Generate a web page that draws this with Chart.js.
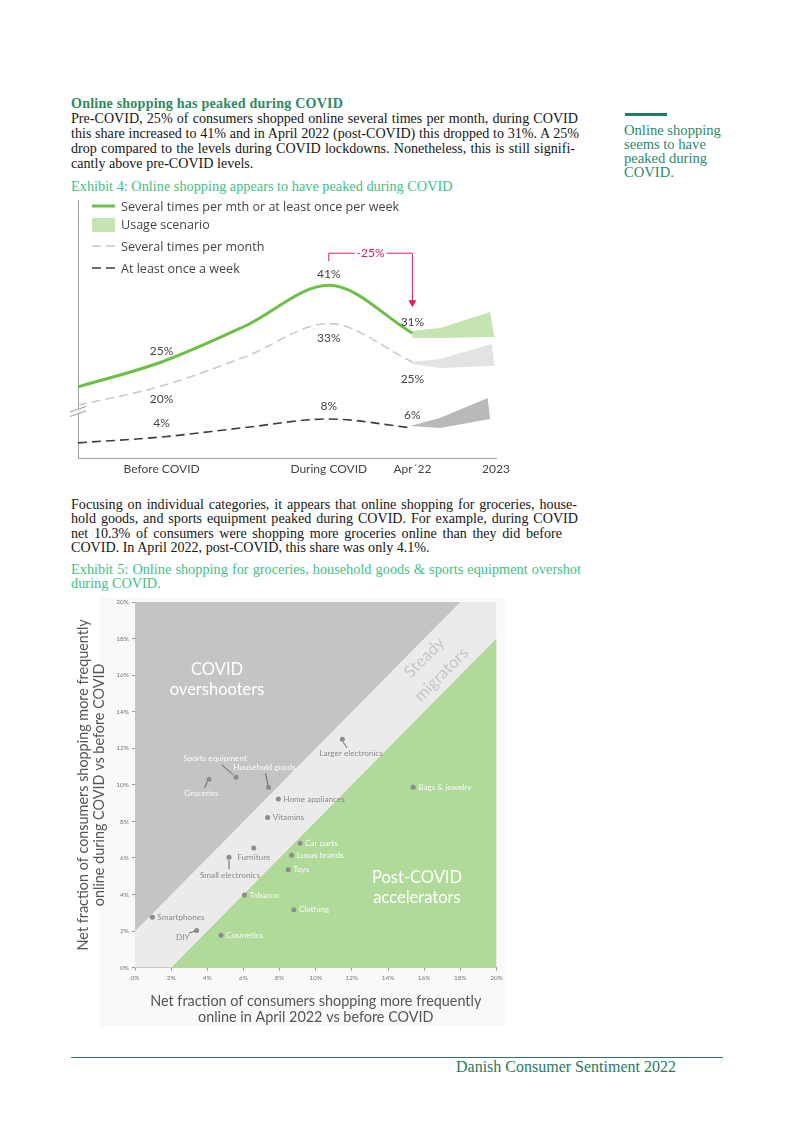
<!DOCTYPE html>
<html lang="en">
<head>
<meta charset="UTF-8">
<title>Danish Consumer Sentiment 2022 - Online shopping</title>
<script src="https://cdn.jsdelivr.net/npm/chart.js"></script>
<style>
    body { margin: 0; background: #fff; }
    .page { position: relative; width: 793px; height: 1122px; overflow: hidden; font-family: "Liberation Serif", serif; color: #161616; }
    .abs { position: absolute; }
    .txt { font-size: 14.1px; line-height: 15px; }
    .txt div, .exhibit div, .side div { white-space: nowrap; }
    .just { text-align: justify; text-align-last: justify; }
    .head { font-weight: bold; color: #2e8a63; letter-spacing: 0.2px; }
    .exhibit { font-size: 14.3px; line-height: 14.5px; color: #3fbf86; }
    .side { font-size: 14.6px; line-height: 14.3px; color: #2b8a6a; }
    .legend { font-family: "Open Sans", sans-serif; font-size: 12.55px; color: #444; line-height: 14px; }
    canvas { position: absolute; }
</style>
</head>
<body>
<div class="page">

    <!-- intro text -->
    <div class="abs txt" style="left:71px; top:95.5px;">
        <div class="head">Online shopping has peaked during COVID</div>
        <div class="just" style="width:507px">Pre-COVID, 25% of consumers shopped online several times per month, during COVID</div>
        <div class="just" style="width:508px">this share increased to 41% and in April 2022 (post-COVID) this dropped to 31%. A 25%</div>
        <div class="just" style="width:504px">drop compared to the levels during COVID lockdowns. Nonetheless, this is still signifi-</div>
        <div>cantly above pre-COVID levels.</div>
    </div>
    <div class="abs exhibit" style="left:71px; top:178.75px;"><div>Exhibit 4: Online shopping appears to have peaked during COVID</div></div>

    <!-- side note -->
    <div class="abs" style="left:625px; top:112.5px; width:42px; height:3.5px; background:#1f7c5c;"></div>
    <div class="abs side" style="left:624px; top:122.5px;">
        <div>Online shopping</div>
        <div>seems to have</div>
        <div>peaked during</div>
        <div>COVID.</div>
    </div>

    <!-- exhibit 4 -->
    <canvas id="trendChart" width="465" height="290" style="left:60px; top:195px;"></canvas>
    <div class="abs legend" style="left:90px; top:199px;">
        <svg class="abs" style="left:2px; top:0;" width="24" height="14"><line x1="0" y1="7" x2="23" y2="7" stroke="#6fbe4a" stroke-width="3"/></svg>
        <div class="abs" style="left:31px; top:1px; white-space:nowrap;">Several times per mth or at least once per week</div>
        <div class="abs" style="left:2px; top:19px; width:23px; height:14px; background:#c5e4b2;"></div>
        <div class="abs" style="left:31px; top:19px; white-space:nowrap;">Usage scenario</div>
        <svg class="abs" style="left:2px; top:40px;" width="24" height="14"><line x1="0" y1="7" x2="23" y2="7" stroke="#c9c9c9" stroke-width="1.6" stroke-dasharray="9,5"/></svg>
        <div class="abs" style="left:31px; top:41px; white-space:nowrap;">Several times per month</div>
        <svg class="abs" style="left:2px; top:62px;" width="24" height="14"><line x1="0" y1="7" x2="23" y2="7" stroke="#3d3d3d" stroke-width="1.6" stroke-dasharray="9,5"/></svg>
        <div class="abs" style="left:31px; top:63px; white-space:nowrap;">At least once a week</div>
    </div>

    <!-- second text -->
    <div class="abs txt" style="left:71px; top:496.75px; line-height:14.5px;">
        <div class="just" style="width:506px">Focusing on individual categories, it appears that online shopping for groceries, house-</div>
        <div class="just" style="width:507px">hold goods, and sports equipment peaked during COVID. For example, during COVID</div>
        <div class="just" style="width:491px">net 10.3% of consumers were shopping more groceries online than they did before</div>
        <div>COVID. In April 2022, post-COVID, this share was only 4.1%.</div>
    </div>
    <div class="abs exhibit" style="left:71px; top:561.75px;">
        <div class="just" style="width:510px">Exhibit 5: Online shopping for groceries, household goods &amp; sports equipment overshot</div>
        <div>during COVID.</div>
    </div>

    <!-- exhibit 5 -->
    <div class="abs" style="left:100px; top:597px; width:405px; height:430px; background:#f9f9f9;"></div>
    <canvas id="categoryChart" width="460" height="440" style="left:60px; top:592px;"></canvas>

    <!-- footer -->
    <div class="abs" style="left:71px; top:1056.5px; width:652px; height:1px; background:#2a7a5c;"></div>
    <div class="abs" style="left:456px; top:1058px; font-size:16px; line-height:18px; color:#2a7a5c; white-space:nowrap;">Danish Consumer Sentiment 2022</div>
</div>

<script>
    // ---- Exhibit 4: share of consumers shopping online (%) ----
    const timeline = [0, 1, 2, 3, 4];              // 1 = before COVID, 3 = during COVID, 4 = Apr 22
    const combinedShare = [19.8, 25, 32.5, 41, 31]; // several times per mth or at least once per week
    const monthlyShare = [16, 20, 26.1, 33, 25];    // several times per month
    const weeklyShare = [2.7, 4, 6.1, 8, 6];        // at least once a week
    const labelledPoints = [1, 3, 4];
    const tickValues = [1, 3, 4, 5];
    const tickLabels = ['Before COVID', 'During COVID', 'Apr´22', '2023'];
    const dropLabel = '-25%';

    // usage scenario bands towards 2023 (outline, going round)
    const combinedBandX = [4, 4.33, 4.93, 4.98, 4.33, 4];
    const combinedBandY = [31.5, 32.1, 35.4, 30.2, 30, 30];
    const monthlyBandX = [4, 4.33, 4.95, 4.98, 4.33, 4];
    const monthlyBandY = [25, 25.6, 28.75, 24.2, 23.75, 24.6];
    const weeklyBandX = [3.97, 4.33, 4.9, 4.93, 4.33, 3.97];
    const weeklyBandY = [6.44, 8.2, 12.66, 8.0, 6.0, 6.44];

    // ---- Exhibit 5: net fraction shopping more often online (%) ----
    const categories = ['Smartphones', 'DIY', 'Cosmetics', 'Tobacco', 'Small electronics', 'Furniture',
        'Clothing', 'Toys', 'Luxus brands', 'Car parts', 'Vitamins', 'Home appliances',
        'Household goods', 'Sports equipment', 'Groceries', 'Larger electronics', 'Bags & jewelry'];
    const april2022 = [0.96, 3.41, 4.76, 6.05, 5.2, 6.57, 8.79, 8.48, 8.67, 9.13, 7.34, 7.93, 7.39, 5.59, 4.1, 11.47, 15.39];
    const duringCovid = [2.76, 2.03, 1.77, 3.98, 6.04, 6.54, 3.17, 5.36, 6.15, 6.81, 8.21, 9.22, 9.85, 10.42, 10.3, 12.5, 9.87];
    const axisTicks = [0, 2, 4, 6, 8, 10, 12, 14, 16, 18, 20];

    // segment borders (x, y)
    const overshootX = [0, 0, 18];
    const overshootY = [2, 20, 20];
    const acceleratorX = [2, 20, 20];
    const acceleratorY = [0, 18, 0];

    const zip = (xs, ys) => xs.map((x, i) => ({ x: x, y: ys[i] }));
    const FONT = 'Lato';

    // label placement for exhibit 4 (pixel offsets from the point)
    const combinedDy = [-11, -11, -11];
    const monthlyDy = [13, 15, 17];
    const weeklyDy = [-14, -13, -13];

    const trendDecor = {
        id: 'trendDecor',
        afterDatasetsDraw(chart) {
            const ctx = chart.ctx;
            const x = chart.scales.x, y = chart.scales.y, y2 = chart.scales.y2;
            const area = chart.chartArea;
            ctx.save();
            ctx.font = '12px ' + FONT;
            ctx.fillStyle = '#444';
            ctx.textAlign = 'center';
            ctx.textBaseline = 'middle';
            labelledPoints.forEach((idx, k) => {
                const px = x.getPixelForValue(timeline[idx]);
                ctx.fillText(combinedShare[idx] + '%', px, y.getPixelForValue(combinedShare[idx]) + combinedDy[k]);
                ctx.fillText(monthlyShare[idx] + '%', px, y.getPixelForValue(monthlyShare[idx]) + monthlyDy[k]);
                ctx.fillText(weeklyShare[idx] + '%', px, y2.getPixelForValue(weeklyShare[idx]) + weeklyDy[k]);
            });

            // -25% bracket
            const xa = x.getPixelForValue(3), xb = x.getPixelForValue(4);
            const top = y.getPixelForValue(41) - 32;
            const tip = y.getPixelForValue(31) - 26;
            const mid = (xa + xb) / 2;
            ctx.strokeStyle = '#e5195e';
            ctx.fillStyle = '#e5195e';
            ctx.lineWidth = 1;
            ctx.beginPath();
            ctx.moveTo(xa, top + 8); ctx.lineTo(xa, top); ctx.lineTo(mid - 16, top);
            ctx.moveTo(mid + 16, top); ctx.lineTo(xb, top); ctx.lineTo(xb, tip - 6);
            ctx.stroke();
            ctx.beginPath();
            ctx.moveTo(xb - 4, tip - 7); ctx.lineTo(xb + 4, tip - 7); ctx.lineTo(xb, tip);
            ctx.closePath();
            ctx.fill();
            ctx.fillText(dropLabel, mid, top);

            // axis break
            const by = area.bottom - 49, bx = area.left;
            ctx.fillStyle = '#fff';
            ctx.beginPath();
            ctx.moveTo(bx - 3, by + 1.5); ctx.lineTo(bx + 3, by - 1);
            ctx.lineTo(bx + 3, by + 3.5); ctx.lineTo(bx - 3, by + 6);
            ctx.closePath();
            ctx.fill();
            ctx.strokeStyle = '#9a9a9a';
            ctx.beginPath();
            ctx.moveTo(bx - 8, by + 3); ctx.lineTo(bx + 8, by - 2.5);
            ctx.moveTo(bx - 8, by + 7.5); ctx.lineTo(bx + 8, by + 2);
            ctx.stroke();
            ctx.restore();
        }
    };

    new Chart(document.getElementById('trendChart'), {
        type: 'line',
        data: {
            datasets: [
                { data: zip(timeline, combinedShare), borderColor: '#6fbe4a', borderWidth: 3, pointRadius: 0,
                  cubicInterpolationMode: 'monotone', yAxisID: 'y', order: 1 },
                { data: zip(timeline, monthlyShare), borderColor: '#c9c9c9', borderWidth: 1.6, borderDash: [9, 5],
                  pointRadius: 0, cubicInterpolationMode: 'monotone', yAxisID: 'y', order: 2 },
                { data: zip(timeline, weeklyShare), borderColor: '#3d3d3d', borderWidth: 1.6, borderDash: [9, 5],
                  pointRadius: 0, cubicInterpolationMode: 'monotone', yAxisID: 'y2', order: 2 },
                { data: zip(combinedBandX, combinedBandY), backgroundColor: '#c5e4b2', borderColor: 'rgba(0,0,0,0)',
                  fill: 'shape', pointRadius: 0, tension: 0, yAxisID: 'y', order: 3 },
                { data: zip(monthlyBandX, monthlyBandY), backgroundColor: '#e3e3e3', borderColor: 'rgba(0,0,0,0)',
                  fill: 'shape', pointRadius: 0, tension: 0, yAxisID: 'y', order: 3 },
                { data: zip(weeklyBandX, weeklyBandY), backgroundColor: '#b9b9b9', borderColor: 'rgba(0,0,0,0)',
                  fill: 'shape', pointRadius: 0, tension: 0, yAxisID: 'y2', order: 3 }
            ]
        },
        options: {
            responsive: false,
            animation: false,
            layout: { padding: { left: 18, right: 29, top: 5, bottom: 0 } },
            plugins: { legend: { display: false }, tooltip: { enabled: false } },
            scales: {
                x: {
                    type: 'linear', min: 0, max: 5,
                    afterBuildTicks: s => { s.ticks = tickValues.map(v => ({ value: v })); },
                    ticks: { callback: v => tickLabels[tickValues.indexOf(v)], color: '#444',
                             font: { family: FONT, size: 12 }, padding: 4, maxRotation: 0, autoSkip: false },
                    grid: { display: false, drawTicks: false },
                    border: { color: '#a0a0a0' },
                    afterFit: s => { s.height = 27; }
                },
                y: {
                    min: 5, max: 58.75,
                    ticks: { display: false },
                    grid: { display: false, drawTicks: false },
                    border: { color: '#a0a0a0' },
                    afterFit: s => { s.width = 0; }
                },
                y2: { display: false, min: -0.67, max: 56.66 }
            }
        },
        plugins: [trendDecor]
    });

    // ---- exhibit 5 drawing ----
    const GREY = '#8a8a8a', WHITE = '#fafafa';
    // text offsets from each dot: dx, dy, align, colour, optional leader line [x1, y1, x2, y2]
    const labelStyle = [
        { dx: 5, dy: 0, align: 'left', color: GREY },
        { dx: -7, dy: 7, align: 'right', color: GREY, lead: [-1.5, 0.5, -7.4, 2.5] },
        { dx: 5, dy: 0, align: 'left', color: WHITE },
        { dx: 5, dy: 0, align: 'left', color: WHITE },
        { dx: 1, dy: 18, align: 'center', color: GREY, lead: [0, 3, 0, 12] },
        { dx: 0, dy: 9.4, align: 'center', color: GREY },
        { dx: 5, dy: 0, align: 'left', color: WHITE },
        { dx: 5, dy: 0, align: 'left', color: WHITE },
        { dx: 5, dy: 0, align: 'left', color: WHITE },
        { dx: 5, dy: 0, align: 'left', color: WHITE },
        { dx: 5, dy: 0, align: 'left', color: GREY },
        { dx: 5, dy: 0, align: 'left', color: GREY },
        { dx: -4, dy: -20.4, align: 'center', color: WHITE, lead: [-3, -14.4, -0.4, -1.5] },
        { dx: -21, dy: -19, align: 'center', color: WHITE, lead: [-14.3, -12.3, -2.7, -2.3] },
        { dx: -7.7, dy: 14.3, align: 'center', color: WHITE, lead: [-1.7, 2, -4.7, 8.6] },
        { dx: 8.7, dy: 14, align: 'center', color: GREY, lead: [0.7, 2.7, 4.7, 8.7] },
        { dx: 5, dy: 0, align: 'left', color: WHITE }
    ];

    const categoryDecor = {
        id: 'categoryDecor',
        afterDatasetsDraw(chart) {
            const ctx = chart.ctx;
            const x = chart.scales.x, y = chart.scales.y;
            ctx.save();
            ctx.textBaseline = 'middle';

            // segment names
            ctx.font = '16.5px ' + FONT;
            ctx.textAlign = 'center';
            ctx.fillStyle = '#ffffff';
            let cx = x.getPixelForValue(4.54), cy = y.getPixelForValue(15.75);
            ctx.fillText('COVID', cx, cy - 10);
            ctx.fillText('overshooters', cx, cy + 10);
            cx = x.getPixelForValue(15.6); cy = y.getPixelForValue(4.37);
            ctx.fillText('Post-COVID', cx, cy - 10);
            ctx.fillText('accelerators', cx, cy + 10);
            cx = x.getPixelForValue(16.48); cy = y.getPixelForValue(16.5);
            ctx.save();
            ctx.translate(cx, cy);
            ctx.rotate(-Math.PI / 4);
            ctx.fillStyle = '#c6c6c6';
            ctx.fillText('Steady', 0, -12);
            ctx.fillText('migrators', 0, 12);
            ctx.restore();

            // category labels
            ctx.font = '8.2px ' + FONT;
            chart.getDatasetMeta(0).data.forEach((pt, i) => {
                const s = labelStyle[i];
                if (s.lead) {
                    ctx.strokeStyle = '#666';
                    ctx.lineWidth = 1;
                    ctx.beginPath();
                    ctx.moveTo(pt.x + s.lead[0], pt.y + s.lead[1]);
                    ctx.lineTo(pt.x + s.lead[2], pt.y + s.lead[3]);
                    ctx.stroke();
                }
                ctx.fillStyle = s.color;
                ctx.textAlign = s.align;
                ctx.fillText(categories[i], pt.x + s.dx, pt.y + s.dy);
            });
            ctx.restore();
        }
    };

    const tickFont = { family: FONT, size: 6.5 };
    const titleFont = { family: FONT, size: 14.4, lineHeight: 1.1 };

    new Chart(document.getElementById('categoryChart'), {
        type: 'scatter',
        data: {
            datasets: [
                { data: zip(april2022, duringCovid), backgroundColor: '#8c8c8c', borderWidth: 0, pointRadius: 2.5, order: 0 },
                { type: 'line', data: zip(overshootX, overshootY), backgroundColor: '#c4c4c4', borderColor: 'rgba(0,0,0,0)',
                  fill: 'shape', pointRadius: 0, tension: 0, order: 1 },
                { type: 'line', data: zip(acceleratorX, acceleratorY), backgroundColor: '#b0da99', borderColor: 'rgba(0,0,0,0)',
                  fill: 'shape', pointRadius: 0, tension: 0, order: 1 },
                { type: 'line', data: zip([0, 0, 20, 20], [0, 20, 20, 0]), backgroundColor: '#ebebeb', borderColor: 'rgba(0,0,0,0)',
                  fill: 'shape', pointRadius: 0, tension: 0, order: 2 }
            ]
        },
        options: {
            responsive: false,
            animation: false,
            layout: { padding: { left: 0, right: 23.5, top: 10, bottom: 0 } },
            plugins: { legend: { display: false }, tooltip: { enabled: false } },
            scales: {
                x: {
                    min: 0, max: 20,
                    afterBuildTicks: s => { s.ticks = axisTicks.map(v => ({ value: v })); },
                    ticks: { callback: v => v + '%', font: tickFont, color: '#777', padding: 3, maxRotation: 0, autoSkip: false },
                    grid: { drawOnChartArea: false, tickLength: 3, color: '#9a9a9a' },
                    border: { color: '#9a9a9a' },
                    title: { display: true, text: ['Net fraction of consumers shopping more frequently', 'online in April 2022 vs before COVID'],
                             font: titleFont, color: '#555', padding: { top: 0, bottom: 7.1 } },
                    afterFit: s => { s.height = 64.3; }
                },
                y: {
                    min: 0, max: 20,
                    afterBuildTicks: s => { s.ticks = axisTicks.map(v => ({ value: v })); },
                    ticks: { callback: v => v + '%', font: tickFont, color: '#777', padding: 3, autoSkip: false },
                    grid: { drawOnChartArea: false, tickLength: 3, color: '#9a9a9a' },
                    border: { color: '#9a9a9a' },
                    title: { display: true, text: ['Net fraction of consumers shopping more frequently', 'online during COVID vs before COVID'],
                             font: titleFont, color: '#555', padding: { top: 15.1, bottom: 0 } },
                    afterFit: s => { s.width = 75; }
                }
            }
        },
        plugins: [categoryDecor]
    });
</script>
</body>
</html>
